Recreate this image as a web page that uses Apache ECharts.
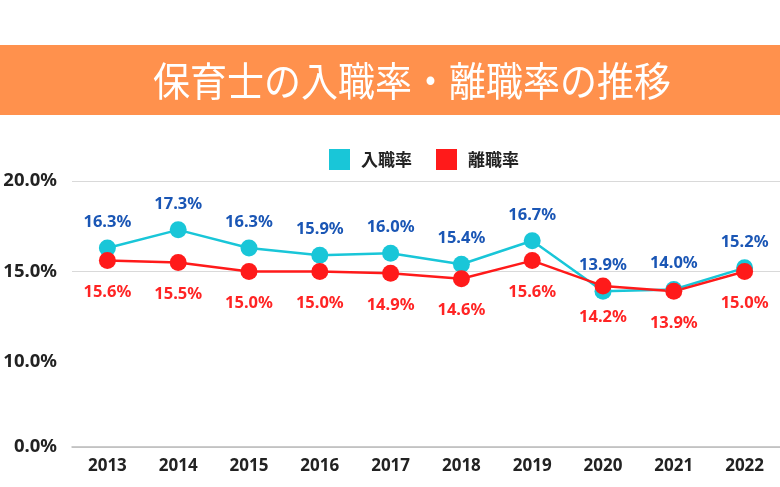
<!DOCTYPE html>
<html><head><meta charset="utf-8">
<script src="https://cdn.jsdelivr.net/npm/echarts@6/dist/echarts.min.js"></script>
<style>html,body{margin:0;padding:0;background:#fff}#c{width:780px;height:487px}</style>
</head><body><div id="c"></div>
<script>
const years = ['2013','2014','2015','2016','2017','2018','2019','2020','2021','2022'];
const entryRate = [16.3, 17.3, 16.3, 15.9, 16.0, 15.4, 16.7, 13.9, 14.0, 15.2];
const leaveRate = [15.6, 15.5, 15.0, 15.0, 14.9, 14.6, 15.6, 14.2, 13.9, 15.0];
const titleText = '保育士の入職率・離職率の推移';
const seriesNames = ['入職率', '離職率'];

const chart = echarts.init(document.getElementById('c'));
const font = '"Noto Sans", "Noto Sans CJK JP", sans-serif';
chart.setOption({
  animation: false,
  backgroundColor: '#fff',
  graphic: [
    {type: 'rect', shape: {x: 0, y: 45, width: 780, height: 70}, style: {fill: '#FF914D'}, z: 0},
    {type: 'text', x: 412, y: 81, scaleY: 1.08, style: {text: titleText, fill: '#fff', font: '37px "Noto Sans CJK JP"', textAlign: 'center', textVerticalAlign: 'middle'}, z: 1}
  ],
  legend: {
    top: 144, left: 324,
    itemWidth: 21, itemHeight: 21, itemGap: 24,
    icon: 'rect',
    textStyle: {fontFamily: '"Noto Sans CJK JP", sans-serif', fontSize: 17, fontWeight: 'bold', color: '#222', padding: [0, 0, 0, 6]},
    data: seriesNames
  },
  grid: {left: 72, right: 0, top: 181, bottom: 40, containLabel: false},
  xAxis: {
    type: 'category', data: years, boundaryGap: true,
    axisLine: {lineStyle: {color: '#bbb', width: 1.5}},
    axisTick: {show: false},
    axisLabel: {fontFamily: font, fontSize: 17, fontWeight: 'bold', color: '#222', margin: 11}
  },
  yAxis: {
    type: 'value', min: 0, max: 20, interval: 5,
    breaks: [{start: 0, end: 10, gap: '32%'}],
    breakArea: {show: false},
    axisLine: {show: false}, axisTick: {show: false},
    splitLine: {lineStyle: {color: '#d9d9d9'}},
    axisLabel: {fontFamily: font, fontSize: 18.5, fontWeight: 'bold', color: '#222', margin: 15,
      formatter: v => v.toFixed(1) + '%'}
  },
  series: [
    {name: seriesNames[0], type: 'line', data: entryRate, color: '#19C6D8',
      symbol: 'circle', symbolSize: 17, lineStyle: {width: 2.5},
      label: {show: true, position: 'top', distance: 9, color: '#1A56B5', fontFamily: font, fontSize: 16.5, fontWeight: 'bold', formatter: p => p.value.toFixed(1) + '%'}},
    {name: seriesNames[1], type: 'line', data: leaveRate, color: '#FF1A1A',
      symbol: 'circle', symbolSize: 17, lineStyle: {width: 2.5},
      label: {show: true, position: 'bottom', distance: 15, color: '#FF2424', fontFamily: font, fontSize: 16.5, fontWeight: 'bold', formatter: p => p.value.toFixed(1) + '%'}}
  ]
});
</script></body></html>
